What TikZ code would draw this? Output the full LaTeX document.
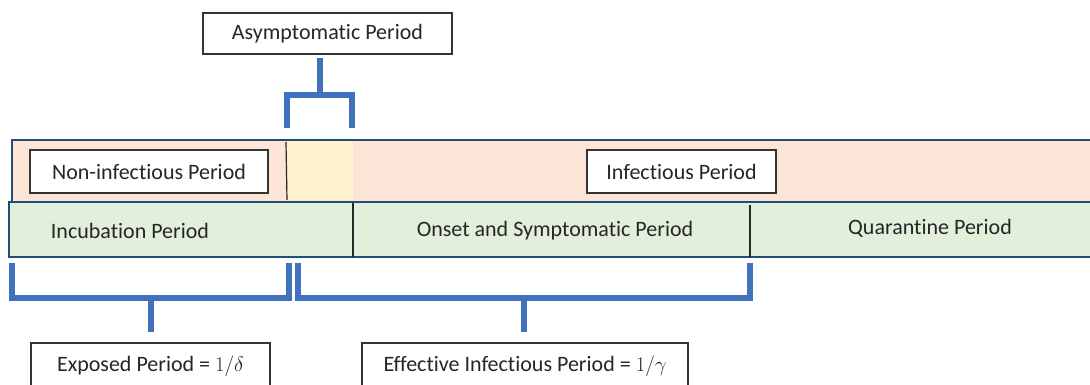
\documentclass[tikz,border=0pt]{standalone}
\usepackage{fontspec}
\setmainfont[Ligatures=NoCommon]{Carlito}
\definecolor{bandred}{HTML}{FCE4D6}
\definecolor{bandyellow}{HTML}{FFF2CC}
\definecolor{bandgreen}{HTML}{E2EFDA}
\definecolor{edgeblue}{HTML}{1F4E79}
\definecolor{brblue}{HTML}{4170BC}
\definecolor{txt}{HTML}{262626}
\begin{document}
\begin{tikzpicture}[x=1pt,y=-1pt,
  lbl/.style={draw=black!80, line width=1.2pt, fill=white, text=txt, inner sep=0pt, font=\fontsize{22}{24}\selectfont},
  plain/.style={text=txt, inner sep=0pt, font=\fontsize{22}{24}\selectfont},
  bracket/.style={draw=brblue, line width=6pt},
  divider/.style={draw=black!85, line width=1.2pt}]
\useasboundingbox (0,0) rectangle (1090,385);
% bands
\fill[bandred] (12,140) rectangle (1090,201);
\fill[bandyellow] (287,141) rectangle (353,200);
\fill[bandgreen] (9,201) rectangle (1090,257);
\draw[edgeblue, line width=1.5pt] (1090,140) -- (12,140) -- (12,201);
\draw[edgeblue, line width=2pt] (1090,202) -- (9,202) -- (9,257) -- (1090,257);
\draw[divider] (286,142) -- (287,200);
\draw[divider] (353,203) -- (353,257);
\draw[divider] (750,205) -- (750,257);
% labels in bands
\node[lbl, minimum width=238pt, minimum height=43pt] (noninf) at (149,171.5) {Non-infectious Period};
\node[lbl, minimum width=189pt, minimum height=43pt] (inf) at (681.5,171.5) {Infectious Period};
\node[plain] (incub) at (130,231) {Incubation Period};
\node[plain] (onset) at (555,231) {Onset and Symptomatic Period};
\node[plain] (quar) at (930,228) {Quarantine Period};
% top box and bracket
\node[lbl, minimum width=249pt, minimum height=41pt] (asym) at (327.5,33.5) {Asymptomatic Period};
\coordinate (tA) at (287,128);
\coordinate (tB) at (352,128);
\draw[bracket] (320,58) -- (320,95);
\draw[bracket] (tA) -- (287,95) -- (352,95) -- (tB);
% bottom boxes
\node[lbl, minimum width=239pt, minimum height=46pt] (expo) at (150.5,366) {Exposed Period = $1/\delta$};
\node[lbl, minimum width=326pt, minimum height=46pt] (eff) at (525,366) {Effective Infectious Period = $1/\gamma$};
% bottom brackets
\draw[bracket] (12,263) -- (12,298) -- (289,298) -- (289,263);
\draw[bracket] (151,298) -- (151,332);
\draw[bracket] (298,263) -- (298,298) -- (750,298) -- (750,263);
\draw[bracket] (524,298) -- (524,332);
\end{tikzpicture}
\end{document}
